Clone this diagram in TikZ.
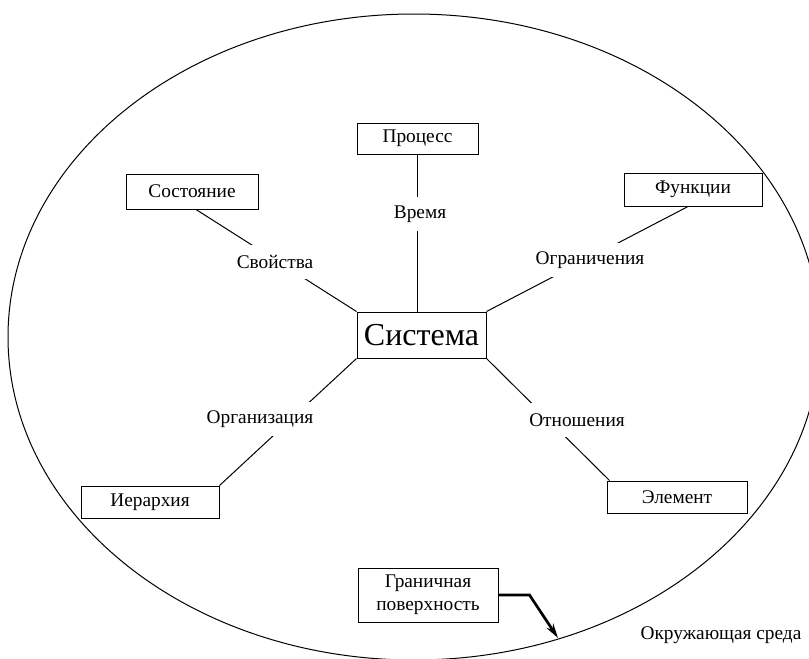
\documentclass[tikz,border=0pt]{standalone}
\usepackage{fontspec}
\setmainfont{Liberation Serif}
\usetikzlibrary{arrows.meta}
\newcommand\lblfont{\fontsize{14.5}{17.25}\selectfont}
\newcommand\sysfont{\fontsize{24}{28}\selectfont}
\tikzset{
  box/.style={draw, fill=white, line width=0.75pt, inner sep=0pt, align=center, font=\lblfont},
  lab/.style={fill=white, inner xsep=0pt, inner ysep=0pt, minimum height=25.5pt, font=\lblfont},
  conn/.style={line width=0.75pt},
  thickarrow/.style={line width=2pt, -{Stealth[length=11pt, width=6pt]}},
}
\begin{document}
\begin{tikzpicture}[x=0.75pt, y=-0.75pt]
\useasboundingbox (0,0) rectangle (809,658);
% environment boundary
\begin{scope}
  \clip (0,0) rectangle (809,658);
  \draw[line width=0.75pt] (414,337) ellipse [x radius=304.5pt, y radius=242.25pt];
\end{scope}
% boxes
\node[box, minimum width=90.75pt, minimum height=23.25pt] (proc) at (417.5,138.5) {Процесс};
\node[box, minimum width=99pt, minimum height=26.25pt] (sost) at (192,191.5) {Состояние};
\node[box, minimum width=103.5pt, minimum height=24.75pt] (func) at (693,189.5) {Функции};
\node[box, minimum width=96.75pt, minimum height=34.5pt, font=\sysfont] (sys) at (421.5,335) {Система};
\node[box, minimum width=103.5pt, minimum height=24pt] (ier) at (150,502) {Иерархия};
\node[box, minimum width=105pt, minimum height=24pt] (elem) at (677,497) {Элемент};
\node[box, minimum width=105pt, minimum height=40.5pt] (gran) at (428,595) {Граничная\\поверхность};
% connectors
\draw[conn] (proc.south) -- (proc.south |- sys.north);
\draw[conn] ([xshift=3pt]sost.south) -- (sys.north west);
\draw[conn] ([xshift=-3.75pt]func.south) -- (sys.north east);
\draw[conn] (sys.south west) -- (ier.north east);
\draw[conn] (sys.south east) -- ([xshift=2.25pt]elem.north west);
% labels on connectors
\node[lab] (vrem) at (420,214) {Время};
\node[lab] (svoi) at (275,262) {Свойства};
\node[lab] (ogr) at (590,260) {Ограничения};
\node[lab] (org) at (260,419) {Организация};
\node[lab] (otn) at (577,420) {Отношения};
% surroundings
\node[font=\lblfont, inner sep=0pt] (env) at (721,635) {Окружающая среда};
% boundary arrow
\coordinate (tip) at (558,638);
\draw[thickarrow] (gran.east) -- ++(31,0) -- (tip);
\end{tikzpicture}
\end{document}
